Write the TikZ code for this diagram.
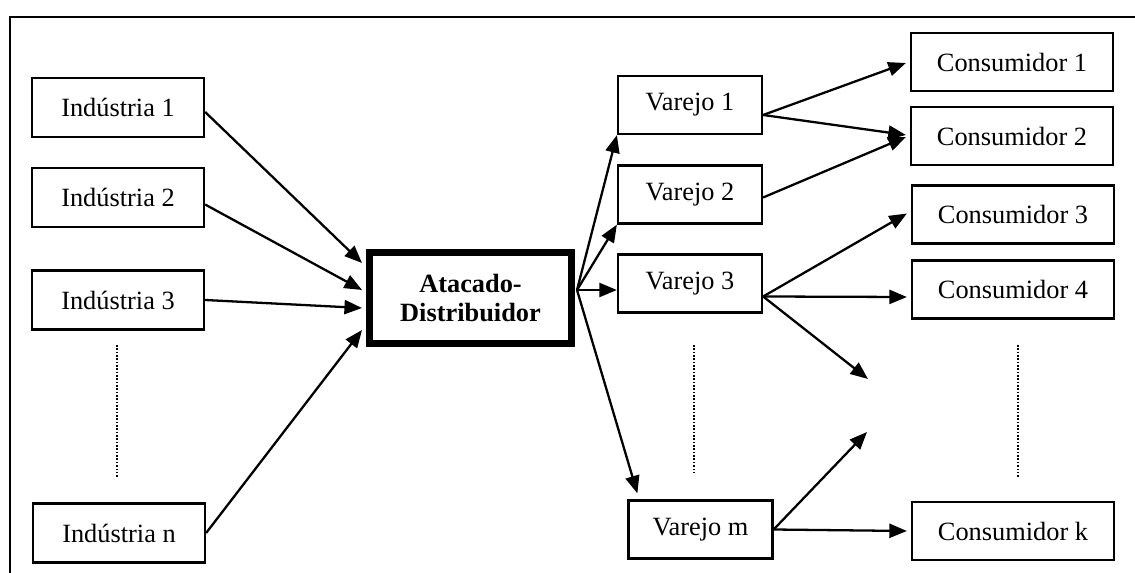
\documentclass[tikz,border=0pt]{standalone}
\usepackage{fontspec}
\setmainfont{Liberation Serif}
\usetikzlibrary{positioning, arrows.meta}

\begin{document}
\begin{tikzpicture}[x=0.02cm, y=-0.02cm, >={Triangle[length=10pt, width=8pt]},
		caixa/.style={draw, line width=1.3pt, inner sep=0pt, font=\fontsize{15pt}{17pt}\selectfont},
		industria/.style={caixa, minimum width=3.44cm, minimum height=1.18cm},
		varejo/.style={caixa, minimum width=2.88cm, minimum height=1.16cm},
		consumidor/.style={caixa, minimum width=4.04cm, minimum height=1.16cm},
		seta/.style={->, line width=1.3pt},
		reticencia/.style={densely dotted, line width=0.9pt}]
		\useasboundingbox (0,0) rectangle (1135,573);
		
		% frame, top and left only
		\draw[line width=1.3pt] (1135,17) -- (10,17) -- (10,573);
		
		% industries
		\node[industria] (ind1) at (118,107.5) {Indústria 1};
		\node[industria] (ind2) at (118,197.5) {Indústria 2};
		\node[industria] (ind3) at (118,300) {Indústria 3};
		\node[industria] (indn) at (119,533) {Indústria n};
		
		% wholesaler
		\node[caixa, line width=4pt, minimum width=4.04cm, minimum height=1.82cm,
			font=\fontsize{15pt}{17pt}\selectfont\bfseries, align=center] (atac) at (470.5,298) {Atacado-\\Distribuidor};
		
		% retailers
		\node[varejo] (var1) at (690,105) {Varejo 1};
		\node[varejo] (var2) at (690,194.5) {Varejo 2};
		\node[varejo] (var3) at (690,283.5) {Varejo 3};
		\node[varejo] (varm) at (700.5,529.5) {Varejo m};
		
		% consumers
		\node[consumidor] (cons1) at (1012,62) {Consumidor 1};
		\node[consumidor] (cons2) at (1012,136) {Consumidor 2};
		\node[consumidor] (cons3) at (1013,214.5) {Consumidor 3};
		\node[consumidor] (cons4) at (1013,289.5) {Consumidor 4};
		\node[consumidor] (consk) at (1013,531) {Consumidor k};
		
		% dots between the boxes
		\coordinate (d1a) at (117,345);
		\coordinate (d1b) at (117,478);
		\coordinate (d2a) at (694,345);
		\coordinate (d2b) at (694,475);
		\coordinate (d3a) at (1018,345);
		\coordinate (d3b) at (1018,478);
		\draw[reticencia] (d1a) -- (d1b);
		\draw[reticencia] (d2a) -- (d2b);
		\draw[reticencia] (d3a) -- (d3b);
		
		% industries to wholesaler
		\draw[seta] ([shift={(0,4.5)}]ind1.east) -- ([shift={(-4,-35)}]atac.west);
		\draw[seta] ([shift={(0,7)}]ind2.east) -- ([shift={(-4,-8)}]atac.west);
		\draw[seta] (ind3.east) -- ([shift={(-4,10)}]atac.west);
		\draw[seta] (indn.east) -- ([shift={(-4,32)}]atac.west);
		
		% wholesaler to retailers
		\coordinate (hub) at ([shift={(2,-8)}]atac.east);
		\draw[seta] (hub) -- (var1.south west);
		\draw[seta] (hub) -- (var2.south west);
		\draw[seta] (hub) -- (hub -| var3.west);
		\draw[seta] (hub) -- ([shift={(10,-6)}]varm.north west);
		
		% retailers to consumers
		\coordinate (open1) at (868,379);
		\coordinate (open2) at (867,432);
		\draw[seta] ([shift={(0,10)}]var1.east) -- ([shift={(-4,1)}]cons1.west);
		\draw[seta] ([shift={(0,10)}]var1.east) -- ([shift={(-4,-1)}]cons2.west);
		\draw[seta] ([shift={(0,3)}]var2.east) -- ([shift={(-4,1)}]cons2.west);
		\draw[seta] ([shift={(0,13)}]var3.east) -- ([shift={(-4,-1)}]cons3.west);
		\draw[seta] ([shift={(0,13)}]var3.east) -- ([shift={(-4,7.5)}]cons4.west);
		\draw[seta] ([shift={(0,13)}]var3.east) -- (open1);
		\draw[seta] (varm.east) -- (open2);
		\draw[seta] (varm.east) -- ([shift={(-4,0)}]consk.west);
		
	\end{tikzpicture}
\end{document}
